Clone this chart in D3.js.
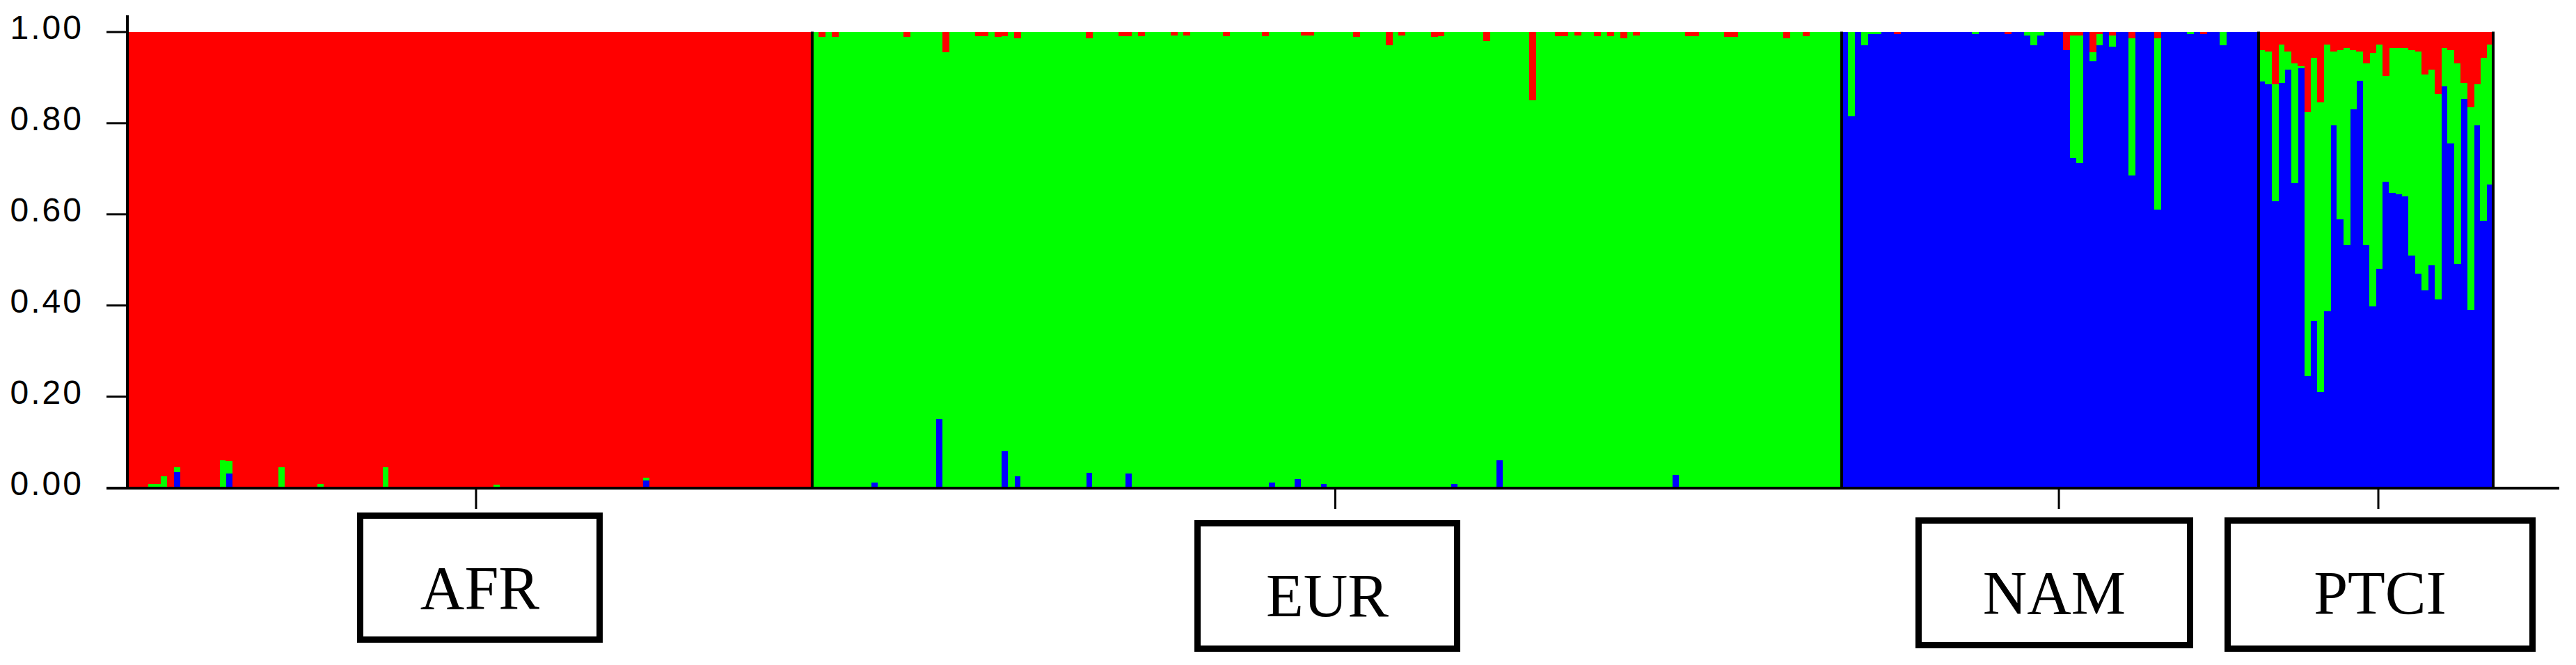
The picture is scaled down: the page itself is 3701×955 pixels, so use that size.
<!DOCTYPE html>
<html><head><meta charset="utf-8">
<script src="https://cdn.jsdelivr.net/npm/d3@7"></script>
<style>html,body{margin:0;padding:0;background:#fff;}svg{display:block}</style>
</head><body>
<svg id="chart" width="3701" height="955"></svg>
<script>
// ---------------- DATA ----------------
const groups = ["AFR", "EUR", "NAM", "PTCI"];
const groupSizes = [105, 158, 64, 36];
const clusterKeys = ["blue", "green", "red"];          // stacking order, bottom to top
const clusterColors = {red: "#ff0000", green: "#00ff00", blue: "#0000ff"};
const yTicks = [0, 0.2, 0.4, 0.6, 0.8, 1.0];

// AFR individuals: minor memberships (red is the remainder)
const afrGreen = [
  0,0,0,.008,.008,.025,0,.012,0,0,
  0,0,0,0,.06,.028,0,0,0,0,
  0,0,0,.045,0,0,0,0,0,.008,
  0,0,0,0,0,0,0,0,0,.045,
  0,0,0,0,0,0,0,0,0,0,
  0,0,0,0,0,0,.006,0,0,0,
  0,0,0,0,0,0,0,0,0,0,
  0,0,0,0,0,0,0,0,0,.006,
  0,0,0,0,0,0,0,0,0,0,
  0,0,0,0,0,0,0,0,0,0,
  0,0,0,0,0];
const afrBlue = [
  0,0,0,0,0,0,0,.033,0,0,
  0,0,0,0,0,.03,0,0,0,0,
  0,0,0,0,0,0,0,0,0,0,
  0,0,0,0,0,0,0,0,0,0,
  0,0,0,0,0,0,0,0,0,0,
  0,0,0,0,0,0,0,0,0,0,
  0,0,0,0,0,0,0,0,0,0,
  0,0,0,0,0,0,0,0,0,.015,
  0,0,0,0,0,0,0,0,0,0,
  0,0,0,0,0,0,0,0,0,0,
  0,0,0,0,0];

// EUR individuals: minor memberships (green is the remainder)
const eurRed = [
  0,.012,0,.012,0,0,0,0,0,0,
  0,0,0,0,.012,0,0,0,0,0,
  .045,0,0,0,0,.01,.01,0,.012,.01,
  0,.015,0,0,0,0,0,0,0,0,
  0,0,.015,0,0,0,0,.01,.01,0,
  .01,0,0,0,0,.008,0,.008,0,0,
  0,0,0,.01,0,0,0,0,0,.01,
  0,0,0,0,0,.008,.008,0,0,0,
  0,0,0,.012,0,0,0,0,.03,0,
  .008,0,0,0,0,.012,.01,0,0,0,
  0,0,0,.02,0,0,0,0,0,0,
  .15,0,0,0,.01,.01,0,.008,0,0,
  .01,0,.01,0,.015,0,.008,0,0,0,
  0,0,0,0,.01,.01,0,0,0,0,
  .012,.012,0,0,0,0,0,0,0,.015,
  0,0,.01,0,0,0,0,0];
const eurBlue = [
  0,0,0,0,0,0,0,0,0,.01,
  0,0,0,0,0,0,0,0,0,.15,
  0,0,0,0,0,0,0,0,0,.08,
  0,.025,0,0,0,0,0,0,0,0,
  0,0,.032,0,0,0,0,0,.03,0,
  0,0,0,0,0,0,0,0,0,0,
  0,0,0,0,0,0,0,0,0,0,
  .01,0,0,0,.018,0,0,0,.008,0,
  0,0,0,0,0,0,0,0,0,0,
  0,0,0,0,0,0,0,0,.008,0,
  0,0,0,0,0,.06,0,0,0,0,
  0,0,0,0,0,0,0,0,0,0,
  0,0,0,0,0,0,0,0,0,0,
  0,0,.027,0,0,0,0,0,0,0,
  0,0,0,0,0,0,0,0,0,0,
  0,0,0,0,0,0,0,0];

// NAM individuals: minor memberships (blue is the remainder)
const namRed = [
  0,0,0,0,0,0,0,0,.005,0,
  0,0,0,0,0,0,0,0,0,0,
  0,0,0,0,0,.005,0,0,0,0,
  0,0,0,0,.04,.008,.008,0,.045,.005,
  0,.008,0,0,.015,0,0,0,.015,0,
  0,0,0,0,0,.006,0,0,0,0,
  0,0,0,0];
const namGreen = [
  0,.185,0,.03,.005,.005,0,0,0,0,
  0,0,0,0,0,0,0,0,0,0,
  .005,0,0,0,0,0,0,0,.008,.03,
  .008,0,0,0,0,.27,.28,0,.02,.025,
  0,.025,0,0,.30,0,0,0,.375,0,
  0,0,0,.005,0,0,0,0,.03,0,
  0,0,0,0];

// PTCI individuals: red and green memberships (blue is the remainder)
const ptciRed = [
  .04,.043,.116,.029,.043,.069,.076,.177,.058,.155,
  .029,.043,.04,.036,.04,.043,.069,.047,.029,.097,
  .036,.036,.036,.04,.043,.094,.083,.137,.036,.04,
  .069,.112,.166,.116,.058,.029];
const ptciGreen = [
  .07,.073,.256,.083,.04,.263,.004,.578,.577,.635,
  .585,.163,.372,.433,.13,.065,.40,.556,.491,.232,
  .318,.321,.325,.451,.488,.473,.43,.451,.084,.205,
  .44,.036,.444,.09,.357,.307];

// ---------------- LAYOUT ----------------
const W = 3701, H = 955;
const plot = {left: 184, right: 3582, top: 45.5, bottom: 700};
const axisExt = {yTop: 22, xLeft: 153, xRight: 3677};
const tickDx = [8.5, 12, 12.6, 3.5];
const boxLayout = [
  {dx: 14,  w: 353, top: 736, h: 187},
  {dx: 0.6, w: 382, top: 747, h: 189},
  {dx: 6,   w: 399, top: 743, h: 188},
  {dx: 6,   w: 447, top: 743, h: 193}
];

// ---------------- BUILD ROWS ----------------
const individuals = [];
function addGroup(g, n, comp) {
  for (let i = 0; i < n; i++) {
    const row = {group: g};
    comp(row, i);
    individuals.push(row);
  }
}
addGroup("AFR", groupSizes[0], (r, i) => { r.green = afrGreen[i]; r.blue = afrBlue[i]; r.red = 1 - r.green - r.blue; });
addGroup("EUR", groupSizes[1], (r, i) => { r.red = eurRed[i]; r.blue = eurBlue[i]; r.green = 1 - r.red - r.blue; });
addGroup("NAM", groupSizes[2], (r, i) => { r.red = namRed[i]; r.green = namGreen[i]; r.blue = 1 - r.red - r.green; });
addGroup("PTCI", groupSizes[3], (r, i) => { r.red = ptciRed[i]; r.green = ptciGreen[i]; r.blue = 1 - r.red - r.green; });
individuals.forEach((d, i) => d.idx = i);

const svg = d3.select("#chart");
svg.append("rect").attr("width", W).attr("height", H).attr("fill", "#fff");

const x = d3.scaleBand().domain(d3.range(individuals.length)).range([plot.left, plot.right]).paddingInner(0).paddingOuter(0);
const y = d3.scaleLinear().domain([0, 1]).range([plot.bottom, plot.top]);

const stacked = d3.stack().keys(clusterKeys)(individuals);

svg.append("g").selectAll("g").data(stacked).join("g")
  .attr("fill", s => clusterColors[s.key])
  .attr("shape-rendering", "crispEdges")
  .selectAll("rect").data(s => s).join("rect")
  .attr("x", d => x(d.data.idx))
  .attr("width", x.bandwidth() + 0.6)
  .attr("y", d => y(d[1]))
  .attr("height", d => Math.max(0, y(d[0]) - y(d[1])));

// group starts / centers
const starts = [];
let acc = 0;
groupSizes.forEach(n => { starts.push(acc); acc += n; });
const gStartX = starts.map(s => x(s));
const gEndX = starts.map((s, k) => s + groupSizes[k] < individuals.length ? x(s + groupSizes[k]) : plot.right);
const gCenter = gStartX.map((s, k) => (s + gEndX[k]) / 2);

// separators
const sepXs = gStartX.slice(1).concat([plot.right]);
svg.append("g").selectAll("line").data(sepXs).join("line")
  .attr("x1", d => d).attr("x2", d => d)
  .attr("y1", plot.top).attr("y2", plot.bottom)
  .attr("stroke", "#000").attr("stroke-width", 4);

// y axis
const yAxis = d3.axisLeft(y).tickValues(yTicks).tickFormat(d3.format(".2f")).tickSize(30).tickPadding(33);
const gy = svg.append("g").attr("transform", `translate(${plot.left - 1},0)`).call(yAxis);
gy.select(".domain").remove();
gy.selectAll(".tick line").attr("stroke", "#000").attr("stroke-width", 3);
gy.selectAll(".tick text")
  .attr("font-family", "'Liberation Sans', Arial, sans-serif")
  .attr("font-size", 48).attr("letter-spacing", "3px")
  .attr("fill", "#000").attr("dy", "10px");
svg.append("line").attr("x1", plot.left - 1).attr("x2", plot.left - 1)
  .attr("y1", axisExt.yTop).attr("y2", plot.bottom + 2)
  .attr("stroke", "#000").attr("stroke-width", 4);

// x axis line
svg.append("line").attr("x1", axisExt.xLeft).attr("x2", axisExt.xRight)
  .attr("y1", plot.bottom + 1).attr("y2", plot.bottom + 1)
  .attr("stroke", "#000").attr("stroke-width", 4);

// x ticks
svg.append("g").selectAll("line").data(groups).join("line")
  .attr("x1", (g, k) => gCenter[k] + tickDx[k]).attr("x2", (g, k) => gCenter[k] + tickDx[k])
  .attr("y1", plot.bottom).attr("y2", plot.bottom + 31)
  .attr("stroke", "#000").attr("stroke-width", 3);

// label boxes
const lg = svg.append("g").selectAll("g").data(groups).join("g");
lg.append("rect")
  .attr("x", (g, k) => gCenter[k] + boxLayout[k].dx - boxLayout[k].w / 2 + 4.5)
  .attr("y", (g, k) => boxLayout[k].top + 4.5)
  .attr("width", (g, k) => boxLayout[k].w - 9)
  .attr("height", (g, k) => boxLayout[k].h - 9)
  .attr("fill", "#fff").attr("stroke", "#000").attr("stroke-width", 9);
lg.append("text")
  .attr("x", (g, k) => gCenter[k] + boxLayout[k].dx)
  .attr("y", (g, k) => boxLayout[k].top + 138)
  .attr("text-anchor", "middle")
  .attr("font-family", "'Liberation Serif', 'Times New Roman', serif")
  .attr("font-size", 88).attr("fill", "#000")
  .text(g => g);
</script>
</body></html>
